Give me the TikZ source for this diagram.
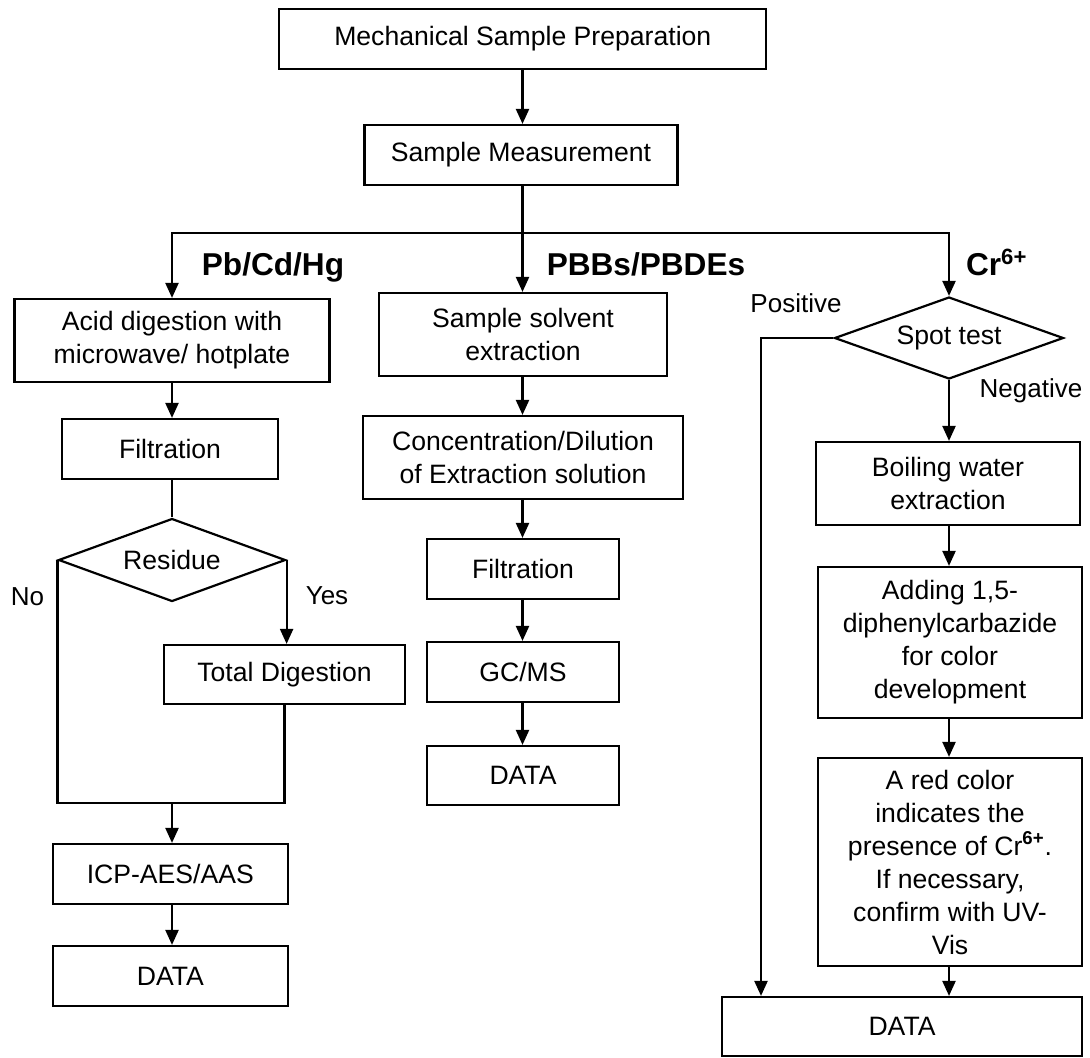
\documentclass[tikz,border=0pt]{standalone}
\usepackage{fontspec}
\setmainfont{Liberation Sans}
\usetikzlibrary{shapes.geometric,arrows.meta}

\begin{document}
\begin{tikzpicture}[x=0.5pt,y=-0.5pt,
  line width=1.1pt,
  box node/.style={rectangle,draw,align=center,inner sep=2pt,font=\fontsize{13.3}{16.5}\selectfont},
  test node/.style={diamond,draw,shape aspect=2.7,inner sep=1pt,font=\fontsize{13.3}{16.5}\selectfont},
  group label/.style={font=\fontsize{15.8}{19}\selectfont\bfseries,anchor=base,inner sep=0pt},
  branch label/.style={font=\fontsize{13}{16}\selectfont,anchor=base,inner sep=0pt},
  arr/.style={-{Triangle[width=6.5pt,length=7.5pt]}}]

  \useasboundingbox (0,0) rectangle (1090,1057);

  \node[box node, minimum width=243.5pt, minimum height=30pt] (prep) at (522.8,39) {Mechanical Sample Preparation};
  \node[box node, minimum width=156.5pt, minimum height=30pt] (meas) at (521,155) {Sample Measurement};

  % Pb/Cd/Hg
  \node[box node, minimum width=157.5pt, minimum height=41.5pt] (acid) at (172,340.5) {Acid digestion with\\microwave/ hotplate};
  \node[box node, minimum width=108.3pt, minimum height=30pt] (filtL) at (170,449) {Filtration};
  \node[test node, minimum width=113.5pt, minimum height=41.5pt] (resid) at (172,560) {Residue};
  \node[box node, minimum width=120.5pt, minimum height=29.5pt] (total) at (284.5,674.5) {Total Digestion};
  \node[box node, minimum width=117.5pt, minimum height=30pt] (icp) at (170.3,874) {ICP-AES/AAS};
  \node[box node, minimum width=117.5pt, minimum height=30pt] (dataL) at (170.3,976) {DATA};

  % PBBs/PBDEs
  \node[box node, minimum width=144pt, minimum height=41.5pt] (solv) at (523,334.5) {Sample solvent\\extraction};
  \node[box node, minimum width=160pt, minimum height=41.5pt] (conc) at (523,457.5) {Concentration/Dilution\\of Extraction solution};
  \node[box node, minimum width=96pt, minimum height=30pt] (filtM) at (523,569) {Filtration};
  \node[box node, minimum width=96pt, minimum height=30pt] (gcms) at (523,672) {GC/MS};
  \node[box node, minimum width=96pt, minimum height=29.5pt] (dataM) at (523,775.5) {DATA};

  % Cr6+
  \node[test node, minimum width=114.5pt, minimum height=41pt] (spot) at (949,338) {Spot test};
  \node[box node, minimum width=132pt, minimum height=41.5pt] (boil) at (948,483.5) {Boiling water\\extraction};
  \node[box node, minimum width=132pt, minimum height=75.5pt] (add) at (950,642.5) {Adding 1,5-\\diphenylcarbazide\\for color\\development};
  \node[box node, minimum width=132pt, minimum height=104pt] (red) at (950,862) {A red color\\indicates the\\presence of Cr\textsuperscript{\textbf{6+}}.\\If necessary,\\confirm with UV-\\Vis};
  \node[box node, minimum width=180pt, minimum height=29.5pt] (dataR) at (902,1026.5) {DATA};

  \node[group label] (lblmetal) at (273,275) {Pb/Cd/Hg};
  \node[group label] (lblbrom) at (646,275) {PBBs/PBDEs};
  \node[group label, anchor=base west] (lblchrom) at (965,275) {Cr\textsuperscript{6+}};
  \node[branch label] (lblpos) at (796,312) {Positive};
  \node[branch label] (lblneg) at (1031,397) {Negative};
  \node[branch label] (lblyes) at (327,604) {Yes};
  \node[branch label] (lblno) at (27.5,605) {No};

  \coordinate (trunk) at (522.5,233);
  \coordinate (join) at (172,803);
  \coordinate (pos) at (761,338);

  \draw[arr] (prep.south -| trunk) -- (meas.north -| trunk);
  \draw (meas.south -| trunk) -- (trunk);
  \draw[arr] (trunk) -| (acid.north);
  \draw[arr] (trunk) -- (solv.north -| trunk);
  \draw[arr] (trunk) -| (spot.north);

  \draw[arr] (acid.south) -- (filtL.north -| acid.south);
  \draw (filtL.south -| resid.north) -- (resid.north);
  \draw[arr] (resid.east) -- (total.north -| resid.east);
  \draw (resid.west) |- (join -| total.south) -- (total.south);
  \draw[arr] (join) -- (icp.north -| join);
  \draw[arr] (icp.south -| join) -- (dataL.north -| join);

  \foreach \a/\b in {solv/conc,conc/filtM,filtM/gcms,gcms/dataM}
    \draw[arr] (\a.south -| trunk) -- (\b.north -| trunk);

  \draw[arr] (spot.south) -- (boil.north -| spot.south);
  \draw[arr] (boil.south -| spot.south) -- (add.north -| spot.south);
  \draw[arr] (add.south -| spot.south) -- (red.north -| spot.south);
  \draw[arr] (red.south -| spot.south) -- (dataR.north -| spot.south);
  \draw[arr] (spot.west) -| (pos |- dataR.north);

\end{tikzpicture}
\end{document}
